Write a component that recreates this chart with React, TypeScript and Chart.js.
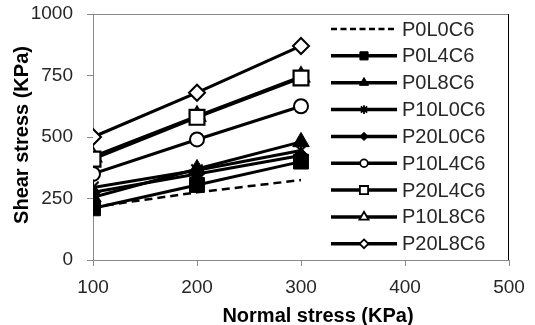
import React, { useEffect, useRef } from "react";
import { Chart, registerables } from "chart.js";

Chart.register(...registerables);

// ---- data ----
const normalStress = [100, 200, 300];
const seriesNames = [
  "P0L0C6",
  "P0L4C6",
  "P0L8C6",
  "P10L0C6",
  "P20L0C6",
  "P10L4C6",
  "P20L4C6",
  "P10L8C6",
  "P20L8C6",
];
const P0L0C6 = [215, 275, 325];
const P0L4C6 = [210, 305, 400];
const P0L8C6 = [255, 370, 480];
const P10L0C6 = [295, 365, 445];
const P20L0C6 = [275, 350, 425];
const P10L4C6 = [350, 490, 625];
const P20L4C6 = [410, 580, 740];
const P10L8C6 = [420, 585, 745];
const P20L8C6 = [500, 680, 870];
const seriesValues = [P0L0C6, P0L4C6, P0L8C6, P10L0C6, P20L0C6, P10L4C6, P20L4C6, P10L8C6, P20L8C6];

const xTickMin = 100;
const xTickMax = 500;
const xTickStep = 100;
const yTickMin = 0;
const yTickMax = 1000;
const yTickStep = 250;
const xTitle = "Normal stress (KPa)";
const yTitle = "Shear stress (KPa)";

// ---- styles ----
type MStyle = { style: string | false; r: number; fill: string; lw: number; dash?: number[] };
const markerStyles: MStyle[] = [
  { style: false, r: 0, fill: "#000", lw: 2.5, dash: [8, 5] },
  { style: "rect", r: 10.5, fill: "#000", lw: 1 },
  { style: "triangle", r: 9.5, fill: "#000", lw: 1 },
  { style: "asterisk", r: 8, fill: "#000", lw: 2.2 },
  { style: "rectRot", r: 7.5, fill: "#000", lw: 1 },
  { style: "circle", r: 7, fill: "#fff", lw: 2 },
  { style: "rect", r: 10.5, fill: "#fff", lw: 2.2 },
  { style: "triangle", r: 9.5, fill: "#fff", lw: 2 },
  { style: "rectRot", r: 8, fill: "#fff", lw: 2 },
];

const TEXT = "#262626";
const AXIS = "#8a8a8a";
const FONT = "'Liberation Sans', Arial, sans-serif";

function drawMarker(ctx: CanvasRenderingContext2D, style: string, x: number, y: number, r: number, fill: string, lw: number) {
  ctx.save();
  ctx.fillStyle = fill;
  ctx.strokeStyle = "#000";
  ctx.lineWidth = lw;
  ctx.setLineDash([]);
  ctx.beginPath();
  if (style === "circle") {
    ctx.arc(x, y, r, 0, Math.PI * 2);
    ctx.closePath();
    ctx.fill();
    ctx.stroke();
  } else if (style === "rect") {
    const s = r * Math.SQRT1_2;
    ctx.rect(x - s, y - s, 2 * s, 2 * s);
    ctx.fill();
    ctx.stroke();
  } else if (style === "triangle") {
    for (let k = 0; k < 3; k++) {
      const a = (k * 2 * Math.PI) / 3;
      const px = x + Math.sin(a) * r;
      const py = y - Math.cos(a) * r;
      if (k === 0) ctx.moveTo(px, py);
      else ctx.lineTo(px, py);
    }
    ctx.closePath();
    ctx.fill();
    ctx.stroke();
  } else if (style === "rectRot") {
    ctx.moveTo(x, y - r);
    ctx.lineTo(x + r, y);
    ctx.lineTo(x, y + r);
    ctx.lineTo(x - r, y);
    ctx.closePath();
    ctx.fill();
    ctx.stroke();
  } else if (style === "asterisk") {
    ctx.moveTo(x, y - r);
    ctx.lineTo(x, y + r);
    const d = r * Math.SQRT1_2;
    ctx.moveTo(x - d, y - d);
    ctx.lineTo(x + d, y + d);
    ctx.moveTo(x - d, y + d);
    ctx.lineTo(x + d, y - d);
    ctx.stroke();
  }
  ctx.restore();
}

const asteriskCanvas = (() => {
  const r = 8;
  const size = 2 * r + 4;
  const c = document.createElement("canvas");
  c.width = size;
  c.height = size;
  const cx = c.getContext("2d");
  if (cx) drawMarker(cx, "asterisk", size / 2, size / 2, r, "#000", 2.2);
  return c;
})();

const framePlugin = {
  id: "frameAndLegend",
  afterDraw(chart: any) {
    const { ctx, chartArea: a } = chart;
    ctx.save();
    // top border
    ctx.strokeStyle = AXIS;
    ctx.lineWidth = 1;
    ctx.beginPath();
    ctx.moveTo(a.left, Math.round(a.top) + 0.5);
    ctx.lineTo(a.right, Math.round(a.top) + 0.5);
    ctx.stroke();
    // right border (legend frame)
    ctx.strokeStyle = "#000";
    ctx.beginPath();
    ctx.moveTo(Math.round(a.right) - 0.5, a.top);
    ctx.lineTo(Math.round(a.right) - 0.5, a.bottom);
    ctx.stroke();

    // legend
    const lx0 = 331;
    const lx1 = 397;
    const tx = 402;
    const y0 = 29;
    const dy = 26.85;
    ctx.font = `20px ${FONT}`;
    ctx.textBaseline = "middle";
    ctx.textAlign = "left";
    chart.data.datasets.forEach((ds: any, i: number) => {
      const st = markerStyles[i];
      const y = y0 + i * dy;
      ctx.save();
      ctx.strokeStyle = "#000";
      if (st.dash) {
        ctx.lineWidth = 2.5;
        ctx.setLineDash([6, 3.5]);
      } else {
        ctx.lineWidth = 3.5;
        ctx.setLineDash([]);
      }
      ctx.beginPath();
      ctx.moveTo(lx0, y);
      ctx.lineTo(lx1, y);
      ctx.stroke();
      ctx.restore();
      if (st.style) {
        drawMarker(ctx, st.style as string, (lx0 + lx1) / 2, y, st.r * 0.55, st.fill, Math.min(st.lw, 1.8));
      }
      ctx.fillStyle = TEXT;
      ctx.fillText(ds.label, tx, y + 1);
    });

    // axis titles
    ctx.fillStyle = "#000";
    ctx.font = `bold 20px ${FONT}`;
    ctx.textAlign = "center";
    ctx.textBaseline = "middle";
    ctx.fillText(xTitle, 318, 316);
    ctx.save();
    ctx.translate(22, 135);
    ctx.rotate(-Math.PI / 2);
    ctx.fillText(yTitle, 0, 0);
    ctx.restore();
    ctx.restore();
  },
};

export default function App() {
  const ref = useRef<HTMLCanvasElement | null>(null);
  useEffect(() => {
    if (!ref.current) return;
    const datasets = seriesNames.map((name, i) => {
      const st = markerStyles[i];
      const ps = st.style === "asterisk" ? asteriskCanvas : st.style || "circle";
      return {
        label: name,
        data: normalStress.map((x, j) => ({ x, y: seriesValues[i][j] })),
        borderColor: "#000",
        backgroundColor: st.fill,
        borderWidth: st.dash ? 2.5 : 3,
        borderDash: st.dash || [],
        pointStyle: ps,
        pointRadius: st.style ? st.r : 0,
        pointBorderWidth: st.lw,
        pointBorderColor: "#000",
        pointBackgroundColor: st.fill,
        tension: 0,
        fill: false,
        showLine: true,
      };
    });
    const chart = new Chart(ref.current, {
      type: "scatter",
      data: { datasets: datasets as any },
      options: {
        responsive: false,
        animation: false,
        layout: { padding: { top: 14, right: 26, left: 0, bottom: 0 } },
        plugins: { legend: { display: false }, tooltip: { enabled: false } },
        scales: {
          x: {
            type: "linear",
            min: xTickMin,
            max: xTickMax,
            afterFit: (s: any) => {
              s.height = 65;
              s.paddingLeft = 0;
              s.paddingRight = 0;
            },
            ticks: {
              stepSize: xTickStep,
              color: TEXT,
              font: { family: FONT, size: 19 },
              padding: 10,
              callback: (v: any) => String(v),
            },
            grid: { display: true, drawOnChartArea: false, tickLength: 6, color: AXIS, tickColor: AXIS },
            border: { display: true, color: AXIS, width: 1 },
          },
          y: {
            type: "linear",
            min: yTickMin,
            max: yTickMax,
            afterFit: (s: any) => {
              s.width = 93;
              s.paddingTop = 0;
              s.paddingBottom = 0;
            },
            ticks: {
              stepSize: yTickStep,
              color: TEXT,
              font: { family: FONT, size: 19 },
              padding: 14,
              callback: (v: any) => String(v),
            },
            grid: { display: true, drawOnChartArea: false, tickLength: 6, color: AXIS, tickColor: AXIS },
            border: { display: true, color: AXIS, width: 1 },
          },
        },
      },
      plugins: [framePlugin as any],
    });
    return () => chart.destroy();
  }, []);
  return (
    <div style={{ position: "fixed", left: 0, top: 0, width: 535, height: 325, background: "#fff" }}>
      <canvas ref={ref} width={535} height={325} style={{ display: "block" }} />
    </div>
  );
}
